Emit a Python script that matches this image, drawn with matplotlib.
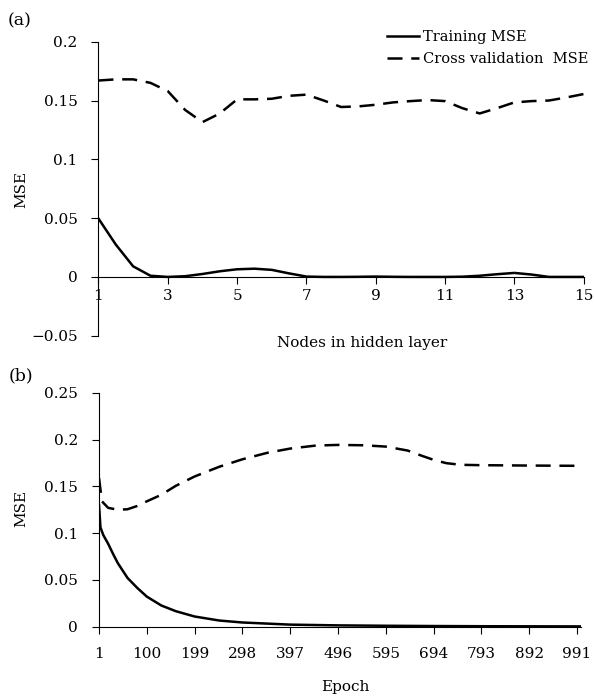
import matplotlib
matplotlib.use("Agg")
import matplotlib.pyplot as plt

plt.rcParams['font.family'] = ['DejaVu Serif']
plt.rcParams['font.size'] = 11

#(a) MSE vs nodes in hidden layer
nodes = [1, 1.5, 2, 2.5, 3, 3.5, 4, 4.5, 5, 5.5, 6, 6.5, 7, 7.5, 8, 8.5, 9, 9.5,
         10, 10.5, 11, 11.5, 12, 12.5, 13, 13.5, 14, 14.5, 15]
train_a = [0.0496, 0.0275, 0.009, 0.001, 0.0, 0.0006, 0.0025, 0.0048, 0.0065, 0.007,
           0.006, 0.003, 0.0003, 0.0, 0.0, 0.0001, 0.0003, 0.0001, 0.0, 0.0, 0.0,
           0.0002, 0.001, 0.0023, 0.0034, 0.002, 0.0, 0.0, 0.0]
cv_a = [0.167, 0.168, 0.168, 0.165, 0.158, 0.142, 0.1316, 0.139, 0.151, 0.151,
        0.1515, 0.154, 0.155, 0.150, 0.1445, 0.145, 0.1464, 0.1484, 0.1495, 0.1504,
        0.1495, 0.1435, 0.139, 0.1435, 0.1484, 0.1495, 0.150, 0.1526, 0.1555]
xticks_a = [1, 3, 5, 7, 9, 11, 13, 15]
yticks_a = [-0.05, 0, 0.05, 0.1, 0.15, 0.2]
ylabels_a = ['\u22120.05', '0', '0.05', '0.1', '0.15', '0.2']

#(b) MSE vs epoch
epoch_train = [1, 4, 10, 20, 30, 40, 60, 80, 100, 130, 160, 199, 250, 298, 397,
               496, 595, 694, 793, 892, 1000]
train_b = [0.13, 0.106, 0.0977, 0.0885, 0.0778, 0.0678, 0.052, 0.0414, 0.032, 0.0225,
           0.0164, 0.0107, 0.0064, 0.0043, 0.002, 0.0012, 0.0008, 0.0005, 0.0003,
           0.0002, 0.0001]
epoch_cv = [1, 7, 20, 40, 60, 80, 100, 130, 160, 199, 250, 298, 350, 397, 450, 496,
            550, 595, 640, 670, 694, 720, 750, 793, 892, 1000]
cv_b = [0.159, 0.134, 0.127, 0.125, 0.1255, 0.129, 0.134, 0.141, 0.1506, 0.1606,
        0.171, 0.179, 0.186, 0.1905, 0.1937, 0.1944, 0.194, 0.1926, 0.1884, 0.1827,
        0.1784, 0.1749, 0.1731, 0.1727, 0.1723, 0.172]
xticks_b = [1, 100, 199, 298, 397, 496, 595, 694, 793, 892, 991]
yticks_b = [0, 0.05, 0.1, 0.15, 0.2, 0.25]
ylabels_b = ['0', '0.05', '0.1', '0.15', '0.2', '0.25']

fig = plt.figure(figsize=(5.94, 7.0), dpi=100)
dash = (6, 3.5)
lw = 1.8

#top panel
ax1 = fig.add_axes([0.1658, 0.5204, 0.8168, 0.42])
ax1.plot(nodes, train_a, color='black', lw=lw, label='Training MSE')
ax1.plot(nodes, cv_a, color='black', lw=lw, dashes=dash, label='Cross validation  MSE')
ax1.set_xlim(1, 15)
ax1.set_ylim(-0.05, 0.2)
ax1.spines['top'].set_visible(False)
ax1.spines['right'].set_visible(False)
ax1.spines['bottom'].set_position(('data', 0))
ax1.set_xticks(xticks_a)
ax1.set_yticks(yticks_a)
ax1.set_yticklabels(ylabels_a)
ax1.tick_params(axis='y', direction='out', length=5, pad=10)
ax1.tick_params(axis='x', direction='out', length=5, pad=4)
fig.text(362 / 594, 1 - 343 / 700, 'Nodes in hidden layer', ha='center', va='center')
fig.text(21 / 594, 1 - 189 / 700, 'MSE', rotation=90, ha='center', va='center')
fig.text(20 / 594, 1 - 21 / 700, '(a)', ha='center', va='center', fontsize=12.5)
fig.legend(loc='upper left', bbox_to_anchor=(387 / 594, 1 - 30 / 700), frameon=False,
           fontsize=10.5, handlelength=2.2, handletextpad=0.25, labelspacing=0.55,
           borderaxespad=0, borderpad=0)

#bottom panel
ax2 = fig.add_axes([0.1667, 0.105, 0.812, 0.3336])
ax2.plot(epoch_train, train_b, color='black', lw=lw)
ax2.plot(epoch_cv, cv_b, color='black', lw=lw, dashes=dash)
ax2.set_xlim(1, 1000)
ax2.set_ylim(0, 0.25)
ax2.spines['top'].set_visible(False)
ax2.spines['right'].set_visible(False)
ax2.set_xticks(xticks_b)
ax2.set_yticks(yticks_b)
ax2.set_yticklabels(ylabels_b)
ax2.tick_params(axis='y', direction='out', length=5, pad=10)
ax2.tick_params(axis='x', direction='out', length=5, pad=10)
fig.text(345 / 594, 1 - 687 / 700, 'Epoch', ha='center', va='center')
fig.text(21 / 594, 1 - 508 / 700, 'MSE', rotation=90, ha='center', va='center')
fig.text(21 / 594, 1 - 376 / 700, '(b)', ha='center', va='center', fontsize=12.5)

fig.savefig('out.png', dpi=100)
